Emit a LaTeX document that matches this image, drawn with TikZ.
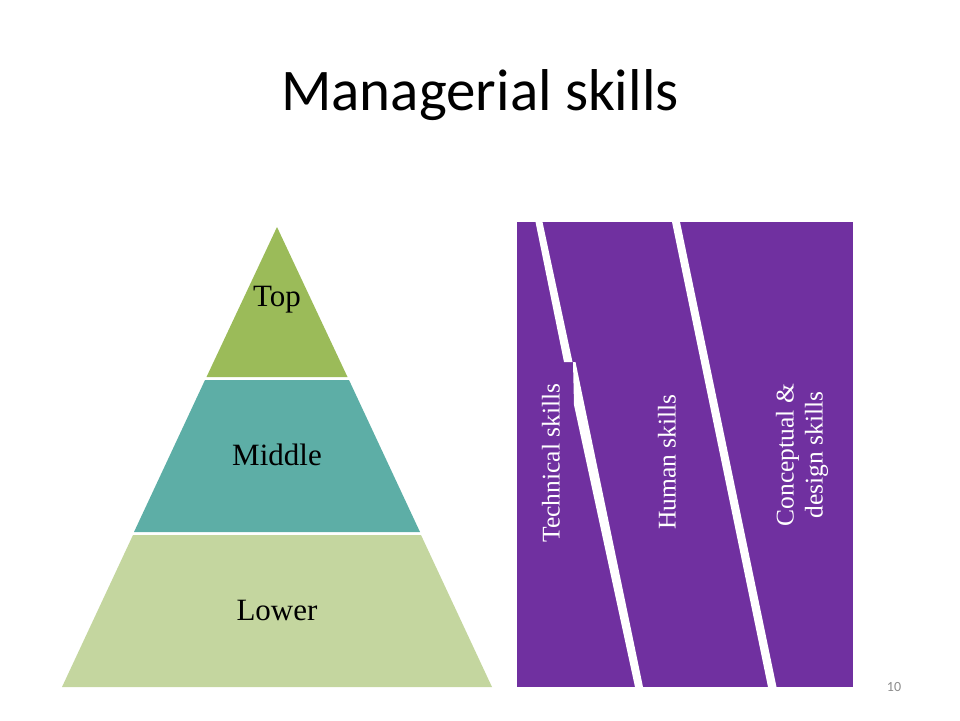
\documentclass[tikz,border=0pt]{standalone}
\usepackage{fontspec}
\setmainfont{Liberation Serif}
\newfontfamily\slidefont{Carlito}
\usepackage{tikz}
\usetikzlibrary{positioning}

\definecolor{topgreen}{HTML}{9BBB59}
\definecolor{midteal}{HTML}{5DAEA6}
\definecolor{lowgreen}{HTML}{C4D69F}
\definecolor{skillpurple}{HTML}{7030A0}
\definecolor{pagegray}{HTML}{8C8C8C}

\tikzset{
    level/.style={font=\fontsize{31}{34}\selectfont, text=black},
    skill/.style={font=\fontsize{25.5}{29}\selectfont, text=white, rotate=90, align=center},
    gap/.style={fill=white}
}

\begin{document}
\begin{tikzpicture}[x=1pt, y=-1pt]
    \useasboundingbox (0,0) rectangle (960,720);

    % Title
    \node[font=\slidefont\fontsize{59}{62}\selectfont] (title) at (480,95) {Managerial skills};

    % Pyramid
    \fill[topgreen] (277,227) -- (347.5,377) -- (206.5,377) -- cycle;
    \fill[midteal] (205,380) -- (349,380) -- (420,532) -- (134,532) -- cycle;
    \fill[lowgreen] (133,535) -- (421,535) -- (492,687) -- (62,687) -- cycle;

    \node[level] (top) at (277,300) {Top};
    \node[level] (middle) at (277,455) {Middle};
    \node[level] (lower) at (277,610) {Lower};

    % Skills block
    \fill[skillpurple] (517,222) rectangle (853,687);
    \fill[gap] (535.5,222) -- (542.5,222) -- (572.5,362) -- (564,362) -- cycle;
    \fill[gap] (573,362) -- (575.5,362) -- (643,687) -- (635,687) -- (574,405) -- cycle;
    \fill[gap] (672,222) -- (680,222) -- (776.5,687) -- (768,687) -- cycle;

    \node[skill] (technical) at (551,463) {Technical skills};
    \node[skill] (human) at (667,462) {Human skills};
    \node[skill] (conceptual) at (802,455) {Conceptual \&\\design skills};

    % Page number
    \node[font=\slidefont\fontsize{14}{16}\selectfont, text=pagegray] (page) at (894,687) {10};
\end{tikzpicture}
\end{document}
